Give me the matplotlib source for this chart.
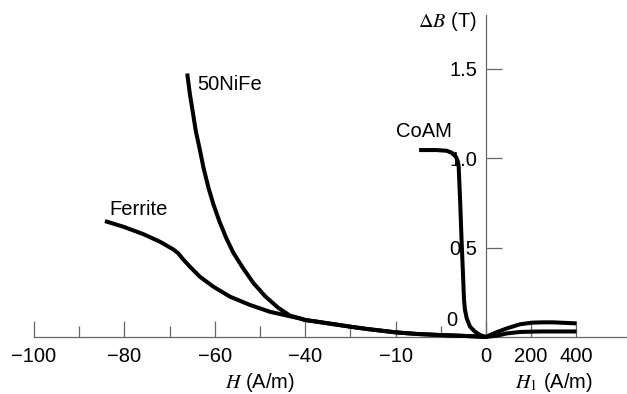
import numpy as np
import matplotlib
matplotlib.use("Agg")
import matplotlib.pyplot as plt

plt.rcParams["font.family"] = ["Liberation Sans", "DejaVu Sans"]
plt.rcParams["mathtext.fontset"] = "stix"

# ── data ─────────────────────────────────────────────────────────────────────
# shared low-field tail of 50NiFe and ferrite (they merge near -43 A/m)
tail_h = [-41.2, -40.0, -36.25, -30.7, -25.15, -19.6, -14.05, -10.0, -7.65,
          -5.1, -2.9, -1.0, 0.0]
tail_b = [0.104, 0.095, 0.086, 0.072, 0.058, 0.045, 0.034, 0.026, 0.017,
          0.011, 0.007, 0.003, 0.0]

nife_h = [-66.1, -65.5, -64.9, -64.2, -63.4, -62.5, -61.4, -60.3, -59.0,
          -57.5, -55.9, -53.8, -51.5, -48.9, -46.0, -43.4] + tail_h
nife_b = [1.473, 1.356, 1.263, 1.151, 1.058, 0.946, 0.834, 0.741, 0.648,
          0.555, 0.471, 0.387, 0.303, 0.229, 0.164, 0.120] + tail_b

ferrite_h = [-84.3, -80.2, -75.8, -72.1, -69.2, -68.1, -67.0, -65.5, -63.3,
             -60.3, -56.6, -52.2, -47.8, -43.4] + tail_h
ferrite_b = [0.648, 0.616, 0.575, 0.532, 0.490, 0.468, 0.434, 0.393, 0.337,
             0.281, 0.225, 0.179, 0.141, 0.116] + tail_b

coam_h = [-7.4, -5.5, -4.35, -3.79, -3.32, -3.10, -3.02, -2.85, -2.7, -2.55,
          -2.43, -2.32, -2.13, -1.77, -1.22, -0.66, 0.0]
coam_b = [1.045, 1.045, 1.041, 1.030, 1.007, 0.979, 0.951, 0.75, 0.54, 0.36,
          0.207, 0.151, 0.104, 0.058, 0.030, 0.011, 0.0]

# right-hand branch, plotted against H1 (A/m)
h1_upper = [0, 18, 50, 92, 150, 202, 250, 296, 350, 400]
b1_upper = [0, 0.011, 0.028, 0.048, 0.071, 0.080, 0.082, 0.082, 0.079, 0.076]
h1_lower = [0, 50, 92, 150, 202, 250, 296, 350, 400]
b1_lower = [0, 0.008, 0.020, 0.028, 0.030, 0.031, 0.031, 0.031, 0.031]

major_ticks = [-100, -80, -60, -40, -10, 0, 200, 400]
major_labels = ["\u2212100", "\u221280", "\u221260", "\u221240", "\u221210",
                "0", "200", "400"]
minor_ticks = [-90, -70, -50, -25, -5]
y_ticks = [0.5, 1.0, 1.5]
y_labels = ["0.5", "1.0", "1.5"]

# ── broken x-scale: H in A/m on the left, H1 on the right ───────────────────
H_KNOTS = [-1000, -40, -10, 0, 400, 2000]
U_KNOTS = [-1000, -40, -20, 0, 20, 100]


def fwd(x):
    return np.interp(x, H_KNOTS, U_KNOTS)


def inv(u):
    return np.interp(u, U_KNOTS, H_KNOTS)


fig = plt.figure(figsize=(6.27, 3.94), dpi=100)
ax = fig.add_axes([34 / 627, 1 - 337 / 394, 1 - 34 / 627, (337 - 15) / 394])
ax.set_xscale("function", functions=(fwd, inv))
ax.set_xlim(-100, 624)
ax.set_ylim(0, 1.8)

line_kw = dict(color="black", lw=2.9, solid_capstyle="butt",
               solid_joinstyle="round", clip_on=False, zorder=3)
ax.plot(nife_h, nife_b, **line_kw)
ax.plot(ferrite_h, ferrite_b, **line_kw)
ax.plot(coam_h, coam_b, **line_kw)
ax.plot(h1_upper, b1_upper, **line_kw)
ax.plot(h1_lower, b1_lower, **line_kw)

axis_col = "#666666"
for side in ("top", "right"):
    ax.spines[side].set_visible(False)
ax.spines["left"].set_position(("data", 0))
ax.spines["left"].set_color(axis_col)
ax.spines["bottom"].set_color(axis_col)
ax.spines["left"].set_linewidth(0.9)
ax.spines["bottom"].set_linewidth(0.9)

ax.set_xticks(major_ticks)
ax.set_xticklabels(major_labels)
ax.set_xticks(minor_ticks, minor=True)
ax.tick_params(axis="x", which="major", direction="in", length=11.5,
               width=0.9, color=axis_col, labelsize=14.5, pad=7)
ax.tick_params(axis="x", which="minor", direction="in", length=7.9,
               width=0.9, color=axis_col)

ax.set_yticks(y_ticks)
ax.set_yticklabels(y_labels)
ax.tick_params(axis="y", direction="in", length=11.5, width=0.9,
               color=axis_col, labelsize=14.5, pad=6.5)

# the lone "0" on the B axis sits above the H axis
ax.annotate("0", xy=(0, 0), xytext=(-24.5, 12.2), textcoords="offset points",
            ha="center", va="center", fontsize=14.5)

ax.text(-1, 1.765, r"$\Delta B$ (T)", ha="right", va="center", fontsize=14.5)

ax.text(-63.9, 1.41, "50NiFe", ha="left", va="center", fontsize=14.5)
ax.text(-83.4, 0.715, "Ferrite", ha="left", va="center", fontsize=14.5)
ax.text(-10.0, 1.15, "CoAM", ha="left", va="center", fontsize=14.5)

fig.text(260 / 627, 1 - 383 / 394, r"$H$ (A/m)", ha="center", va="center",
         fontsize=14.5)
fig.text(554 / 627, 1 - 383 / 394, r"$H_1$ (A/m)", ha="center", va="center",
         fontsize=14.5)

fig.savefig("out.png", dpi=100)
